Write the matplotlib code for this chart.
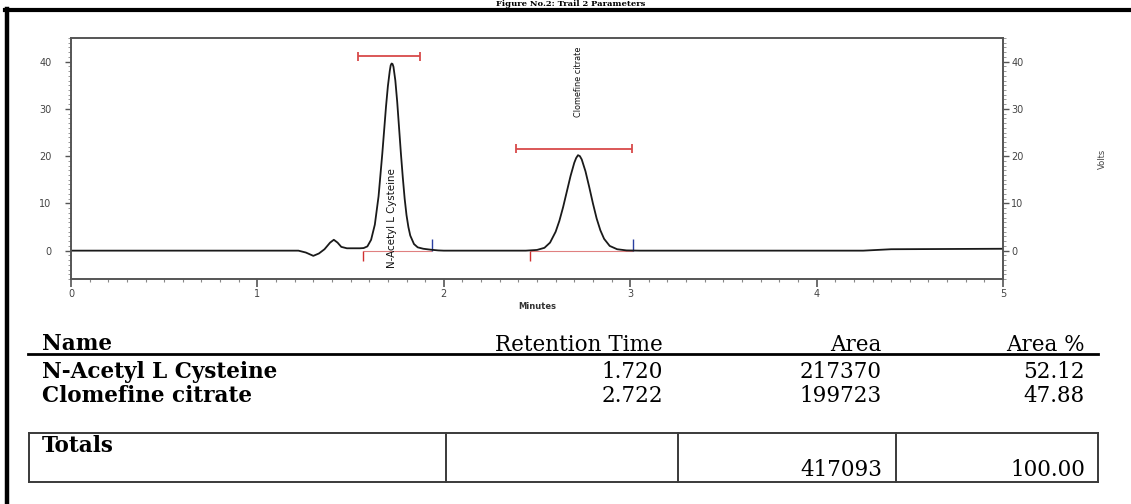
import matplotlib
matplotlib.use("Agg")
import matplotlib.pyplot as plt
from matplotlib.lines import Line2D
from matplotlib.ticker import MultipleLocator
from matplotlib import font_manager

# Traza del cromatograma (minutos, volts)
tiempo = [0.00, 1.22, 1.26, 1.30, 1.33, 1.36, 1.39, 1.41, 1.43, 1.45, 1.48, 1.52,
          1.55, 1.57, 1.59, 1.61, 1.63, 1.65, 1.67, 1.69, 1.70, 1.71, 1.715, 1.72,
          1.725, 1.73, 1.74, 1.75, 1.76, 1.77, 1.78, 1.79, 1.80, 1.81, 1.82, 1.84,
          1.86, 1.89, 1.93, 1.97, 2.00, 2.44, 2.50, 2.54, 2.57, 2.60, 2.62, 2.64,
          2.66, 2.68, 2.70, 2.71, 2.72, 2.73, 2.74, 2.76, 2.78, 2.80, 2.82, 2.84,
          2.86, 2.89, 2.93, 2.98, 3.05, 4.25, 4.40, 5.00]
senal = [0.0, 0.0, -0.4, -1.1, -0.6, 0.3, 1.7, 2.3, 1.7, 0.8, 0.5, 0.5,
         0.5, 0.55, 0.9, 2.3, 5.5, 11.5, 20.5, 30.5, 34.8, 38.0, 39.2, 39.6,
         39.5, 38.9, 36.0, 31.5, 26.0, 20.5, 15.5, 11.0, 7.5, 5.0, 3.2, 1.4,
         0.7, 0.4, 0.2, 0.05, 0.0, 0.0, 0.15, 0.6, 1.7, 4.0, 6.3, 9.2,
         12.5, 15.8, 18.6, 19.6, 20.2, 20.0, 19.3, 16.8, 13.5, 10.0, 6.8, 4.3,
         2.5, 1.0, 0.3, 0.05, 0.0, 0.0, 0.3, 0.4]

# Picos identificados
picos = ["N-Acetyl L Cysteine", "Clomefine citrate"]
pico_t = [1.72, 2.72]
# Barras de ancho de pico (rojo) y marcas de inicio / fin de integración
barra_ini = [1.54, 2.39]
barra_fin = [1.87, 3.01]
barra_y = [41.1, 21.6]
integ_ini = [1.566, 2.46]
integ_fin = [1.937, 3.015]

# Tabla de resultados
columnas = ["Name", "Retention Time", "Area", "Area %"]
nombres = ["N-Acetyl L Cysteine", "Clomefine citrate"]
tiempos_ret = ["1.720", "2.722"]
areas = [217370, 199723]
areas_pct = [52.12, 47.88]
total_area = 417093
total_pct = 100.00

# Fuente angosta para las etiquetas de los picos
disponibles = {f.name for f in font_manager.fontManager.ttflist}
if "Liberation Sans Narrow" in disponibles:
    fuente_pico = dict(family="Liberation Sans Narrow")
else:
    fuente_pico = dict(family="DejaVu Sans", stretch="condensed")

W, H = 1131, 504
def fx(x):
    return x / W
def fy(y):
    return 1 - y / H

fig = plt.figure(figsize=(W / 100, H / 100), dpi=100)

# Marco exterior y título
fig.add_artist(Line2D([fx(7), fx(7)], [fy(9), 0], color="k", lw=3.2))
fig.add_artist(Line2D([fx(5), 1], [fy(10), fy(10)], color="k", lw=3.0))
fig.text(fx(571), fy(6.5), "Figure No.2: Trail 2 Parameters", ha="center", va="baseline",
         fontsize=6, fontweight="bold", family="DejaVu Serif")

# Cromatograma
ax = fig.add_axes([fx(71), fy(279), fx(1003) - fx(71), fy(38) - fy(279)])
ax.set_xlim(0, 5)
ax.set_ylim(-6, 45)

for i in range(len(picos)):
    ax.hlines(0, integ_ini[i], integ_fin[i], color="#e08080", lw=0.8, zorder=2)
    ax.vlines(integ_ini[i], -2.2, 0, color="#d03030", lw=1.0, zorder=2)
    ax.vlines(integ_fin[i], 0, 2.4, color="#2a3fa0", lw=1.0, zorder=2)
    ax.hlines(barra_y[i], barra_ini[i], barra_fin[i], color="#d84a4a", lw=1.3, zorder=2)
    ax.vlines([barra_ini[i], barra_fin[i]], barra_y[i] - 0.9, barra_y[i] + 0.9,
              color="#d84a4a", lw=1.3, zorder=2)

ax.plot(tiempo, senal, color="#1a1a1a", lw=1.3, zorder=3)

ax.text(pico_t[0], -3.6, picos[0], rotation=90, ha="center", va="bottom",
        fontsize=8.2, color="#111", zorder=4, **fuente_pico)
ax.text(pico_t[1], 28.3, picos[1], rotation=90, ha="center", va="bottom",
        fontsize=6.5, color="#111", zorder=4, **fuente_pico)

gris = "#555555"
for s in ax.spines.values():
    s.set_color(gris)
    s.set_linewidth(1.2)

ax.xaxis.set_major_locator(MultipleLocator(1))
ax.xaxis.set_minor_locator(MultipleLocator(0.1))
ax.yaxis.set_major_locator(MultipleLocator(10))
ax.yaxis.set_minor_locator(MultipleLocator(1))
ax.tick_params(axis="x", which="major", direction="out", length=6, width=1.2,
               color=gris, labelsize=7, labelcolor="#444", pad=1.5)
ax.tick_params(axis="x", which="minor", direction="out", length=2.5, width=0.8, color="#888")
ax.tick_params(axis="y", which="major", direction="out", length=4, width=1.0,
               color=gris, labelsize=7, labelcolor="#444", pad=10)
ax.tick_params(axis="y", which="minor", direction="out", length=2, width=0.6, color="#888")
ax.set_xlabel("Minutes", fontsize=6, color="#333", fontweight="bold", labelpad=2)

ax2 = ax.twinx()
ax2.set_ylim(-6, 45)
ax2.yaxis.set_major_locator(MultipleLocator(10))
ax2.yaxis.set_minor_locator(MultipleLocator(1))
ax2.tick_params(axis="y", which="major", direction="out", length=4, width=1.0,
                color=gris, labelsize=7, labelcolor="#444", pad=2)
ax2.tick_params(axis="y", which="minor", direction="out", length=2, width=0.6, color="#888")
for s in ax2.spines.values():
    s.set_color(gris)
    s.set_linewidth(1.2)
ax2.set_ylabel("Volts", fontsize=6, color="#444")
ax2.yaxis.set_label_coords(1.102, 0.5)

# Tabla de resultados
fuente = dict(family="DejaVu Serif", fontsize=15.5, color="k")
col_der = [663, 882, 1085]

fig.text(fx(42), fy(350), columnas[0], ha="left", va="baseline", fontweight="bold", **fuente)
for j in range(1, 4):
    fig.text(fx(col_der[j - 1]), fy(351), columnas[j], ha="right", va="baseline", **fuente)
fig.add_artist(Line2D([fx(28), fx(1098)], [fy(354), fy(354)], color="k", lw=2.0))

filas_y = [378, 402]
for i in range(len(nombres)):
    fig.text(fx(42), fy(filas_y[i]), nombres[i], ha="left", va="baseline",
             fontweight="bold", **fuente)
    fig.text(fx(col_der[0]), fy(filas_y[i]), tiempos_ret[i], ha="right", va="baseline", **fuente)
    fig.text(fx(col_der[1]), fy(filas_y[i]), str(areas[i]), ha="right", va="baseline", **fuente)
    fig.text(fx(col_der[2]), fy(filas_y[i]), "%.2f" % areas_pct[i], ha="right", va="baseline", **fuente)

# Caja de totales
caja = "#3a3a3a"
for yy in [433, 482]:
    fig.add_artist(Line2D([fx(29), fx(1098)], [fy(yy), fy(yy)], color=caja, lw=1.4))
for xx in [29, 446, 678, 896, 1098]:
    fig.add_artist(Line2D([fx(xx), fx(xx)], [fy(433), fy(482)], color=caja, lw=1.4))
fig.text(fx(42), fy(452), "Totals", ha="left", va="baseline", fontweight="bold", **fuente)
fig.text(fx(col_der[1]), fy(476), str(total_area), ha="right", va="baseline", **fuente)
fig.text(fx(col_der[2]), fy(476), "%.2f" % total_pct, ha="right", va="baseline", **fuente)

fig.savefig("out.png", dpi=100)
